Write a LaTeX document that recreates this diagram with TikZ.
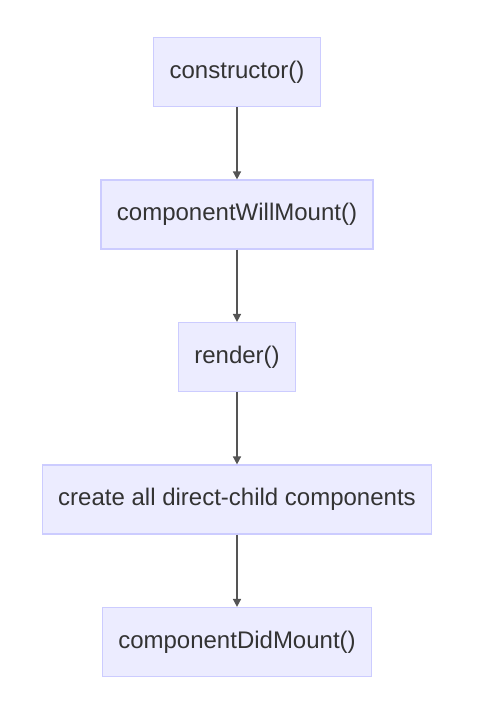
\documentclass[tikz,border=0pt]{standalone}
\usepackage{fontspec}
\setmainfont{Liberation Sans}
\usetikzlibrary{positioning,arrows.meta}
\definecolor{boxfill}{HTML}{ECECFF}
\definecolor{boxline}{HTML}{CCCCFF}
\definecolor{txt}{HTML}{333333}
\definecolor{edge}{HTML}{555555}
\tikzset{
  step box/.style={draw=boxline,line width=1.2pt,fill=boxfill,text=txt,
    inner xsep=16pt,minimum height=69pt,font=\fontsize{24}{28}\selectfont},
  flow/.style={draw=edge,line width=1.6pt,-{Triangle[width=8pt,length=8pt]}}
}
\begin{document}
\begin{tikzpicture}[node distance=72.3pt]
        \useasboundingbox (0,0) rectangle (493pt,-707pt);

        \node[step box] (ctor) at (237pt,-72pt) {constructor()};
        \node[step box, below=of ctor] (willmount) {componentWillMount()};
        \node[step box, below=of willmount] (render) {render()};
        \node[step box, below=of render] (children) {create all direct-child components};
        \node[step box, below=of children] (didmount) {componentDidMount()};

        \draw[flow] (ctor) -- (willmount);
        \draw[flow] (willmount) -- (render);
        \draw[flow] (render) -- (children);
        \draw[flow] (children) -- (didmount);
    \end{tikzpicture}
\end{document}
